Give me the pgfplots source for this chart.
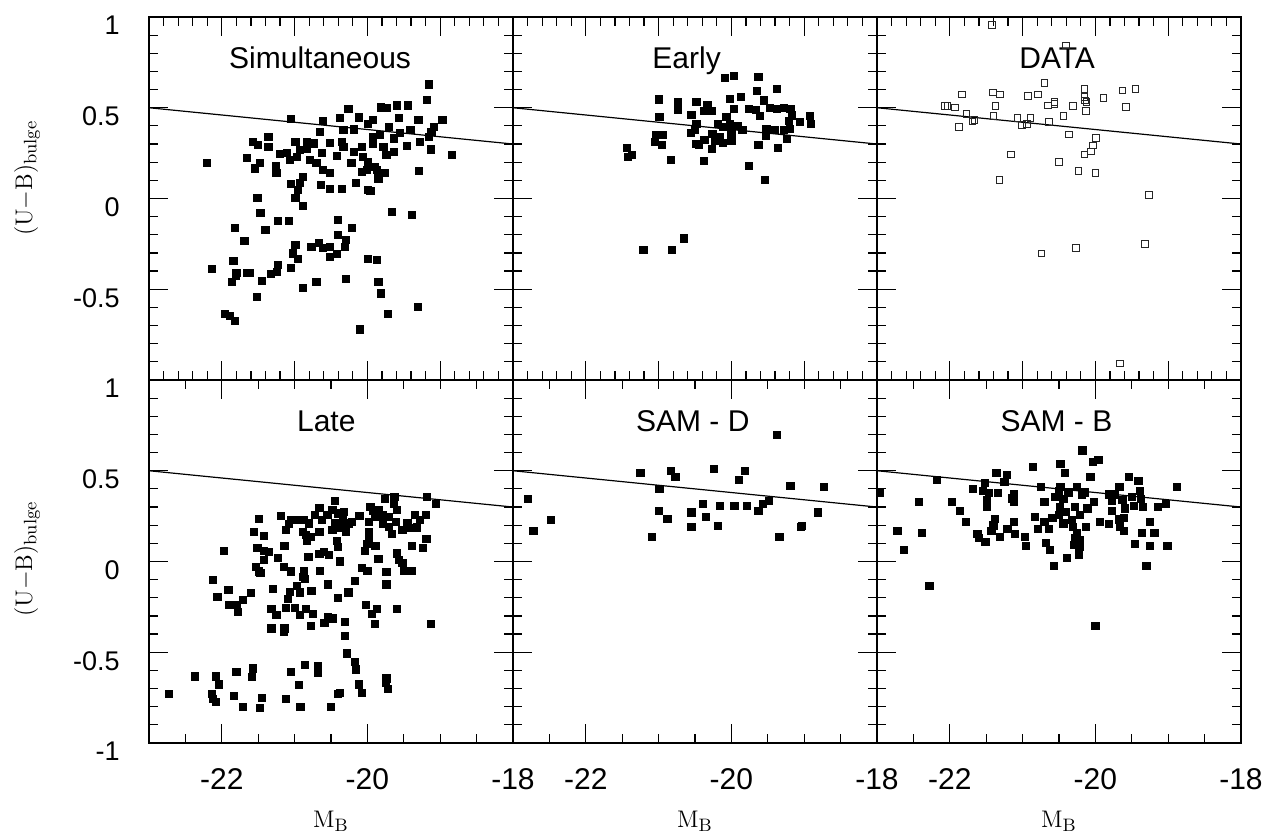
\documentclass[border=0pt]{standalone}
\usepackage[no-math]{fontspec}
\setmainfont{Liberation Sans}
\usepackage{pgfplots}
\pgfplotsset{compat=1.18}

% 1 px of the reference = 0.5pt
\pgfplotsset{
  panel/.style={
    scale only axis, width=182pt, height=181.5pt,
    xmin=-23, xmax=-18, ymin=-1, ymax=1,
    clip=false,
    axis line style={line width=0.9pt},
    tick align=inside, xtick pos=both, ytick pos=both,
    xticklabel pos=lower, yticklabel pos=left,
    ytick={-1,-0.5,0,0.5,1},
    minor ytick={-0.9,-0.8,...,0.95},
    yticklabels={}, xticklabels={},
    major tick length=9.5pt, minor tick length=4.5pt,
    tick style={black},
    major tick style={line width=0.6pt},
    minor tick style={line width=0.6pt},
    xticklabel style={font=\fontsize{15}{16}\selectfont, anchor=north, inner sep=0pt, yshift=-12.5pt},
    yticklabel style={font=\fontsize{13.5}{15}\selectfont, anchor=north east, inner sep=0pt, xshift=-14.5pt, yshift=0.5pt},
  },
  toprow/.style={xtick={-22,-21,-20,-19}, minor xtick={-22.8,-22.6,...,-18.1}},
  botrow/.style={
    xtick={-22,-20,-18}, minor xtick={-22.5,-22,...,-18.4},
    xticklabels={-22,-20,-18},
    xlabel={$\mathrm{M}_\mathrm{B}$},
    xlabel style={font=\fontsize{13}{15}\selectfont, at={(axis description cs:0.5,-0.234)}, anchor=base},
  },
  fitline/.style={black, line width=0.6pt, no marks},
  pts/.style={only marks, black, mark=square*, mark size=1.8pt},
}
\tikzset{lab/.style={font=\fontsize{15}{16}\selectfont, anchor=base}}

\begin{document}
\begin{tikzpicture}
\useasboundingbox (-74.5pt,-45.5pt) rectangle (558pt,371.5pt);

% ---------- top row ----------
\begin{axis}[panel, toprow, at={(0pt,181.5pt)}, anchor=south west,
  yticklabels={,-0.5,{0\hspace{-4pt}},0.5,{1\hspace{-4pt}}},
  ylabel={$(\mathrm{U}{-}\mathrm{B})_{\mathrm{bulge}}$},
  ylabel style={font=\fontsize{13}{15}\selectfont, at={(axis description cs:-0.335,0.556)}, anchor=center}]
\addplot[fitline] coordinates {(-23,0.5) (-18,0.3)};
\addplot[pts] coordinates {
(-19.15,0.629) (-19.18,0.543) (-20.26,0.495) (-19.81,0.502) (-19.74,0.497) (-19.60,0.513) (-19.44,0.513)
(-21.05,0.440) (-20.61,0.429) (-20.38,0.442) (-20.12,0.447) (-19.92,0.433) (-19.57,0.442) (-19.30,0.433)
(-18.97,0.433) (-20.65,0.368) (-20.33,0.378) (-20.19,0.381) (-19.99,0.410) (-19.71,0.396) (-19.41,0.378)
(-19.09,0.396) (-19.12,0.368) (-19.16,0.341) (-19.28,0.313) (-19.13,0.271) (-18.84,0.240) (-21.36,0.341)
(-21.57,0.313) (-21.50,0.295) (-21.36,0.286) (-20.99,0.313) (-20.83,0.313) (-20.74,0.304) (-20.51,0.308)
(-20.35,0.313) (-19.92,0.341) (-19.83,0.350) (-19.64,0.331) (-19.55,0.362) (-19.46,0.289) (-22.21,0.194)
(-21.65,0.225) (-21.54,0.166) (-21.48,0.194) (-21.26,0.181) (-21.25,0.139) (-21.20,0.245) (-21.11,0.249)
(-21.06,0.212) (-20.97,0.230) (-20.93,0.267) (-20.83,0.276) (-20.79,0.212) (-20.70,0.194) (-20.63,0.249)
(-20.61,0.157) (-20.51,0.139) (-20.42,0.234) (-20.33,0.286) (-20.22,0.194) (-20.19,0.258) (-20.08,0.286)
(-20.06,0.230) (-19.99,0.203) (-20.01,0.157) (-19.90,0.175) (-19.92,0.304) (-19.78,0.286) (-19.74,0.240)
(-19.64,0.258) (-19.87,0.157) (-19.76,0.139) (-19.85,0.111) (-20.08,0.148) (-19.29,0.153) (-21.05,0.080)
(-20.89,0.120) (-20.93,0.084) (-20.64,0.075) (-20.51,0.051) (-20.35,0.053) (-20.16,0.084) (-19.99,0.047)
(-20.95,0.047) (-19.96,0.041)
(-21.51,0.005) (-20.99,0.005) (-20.89,-0.040) (-21.47,-0.078) (-19.66,-0.073) (-19.39,-0.089) (-21.23,-0.122)
(-21.08,-0.122) (-20.41,-0.118) (-21.82,-0.162) (-21.40,-0.172) (-20.21,-0.161) (-20.41,-0.199) (-20.29,-0.229)
(-21.69,-0.232) (-20.99,-0.256) (-20.77,-0.265) (-20.67,-0.243) (-20.61,-0.271) (-20.52,-0.265) (-20.31,-0.265)
(-20.42,-0.306) (-20.51,-0.320) (-21.02,-0.302) (-20.96,-0.333) (-19.99,-0.331) (-19.87,-0.337) (-21.84,-0.344)
(-22.14,-0.387) (-21.80,-0.412) (-21.81,-0.425) (-21.86,-0.460) (-21.66,-0.409) (-21.61,-0.409) (-21.45,-0.456)
(-21.33,-0.416) (-21.24,-0.403) (-21.23,-0.366) (-21.05,-0.381) (-20.89,-0.491) (-20.70,-0.458) (-20.30,-0.442)
(-19.85,-0.458) (-19.82,-0.523) (-21.52,-0.541) (-21.96,-0.635) (-21.89,-0.645) (-21.82,-0.675) (-19.72,-0.635)
(-19.31,-0.598) (-20.10,-0.721)
};
\node[lab] at (rel axis cs:0.47,0.857) {Simultaneous};
\end{axis}

\begin{axis}[panel, toprow, at={(182pt,181.5pt)}, anchor=south west]
\addplot[fitline] coordinates {(-23,0.5) (-18,0.3)};
\addplot[pts] coordinates {
(-20.09,0.666) (-19.97,0.675) (-19.63,0.669) (-19.65,0.594) (-19.38,0.605) (-21.00,0.546) (-20.74,0.530)
(-20.74,0.486) (-20.48,0.532) (-20.33,0.515) (-20.38,0.482) (-20.27,0.482) (-20.02,0.550) (-19.87,0.561)
(-19.97,0.495) (-19.76,0.495) (-19.66,0.489) (-19.55,0.541) (-19.61,0.456) (-19.47,0.500) (-19.38,0.495)
(-19.28,0.500) (-19.19,0.495) (-19.17,0.458) (-19.21,0.427) (-19.06,0.421) (-18.92,0.456) (-18.91,0.412)
(-20.99,0.449) (-20.55,0.462) (-20.48,0.409) (-20.56,0.363) (-20.50,0.376) (-20.19,0.412) (-20.07,0.449)
(-20.02,0.412) (-20.12,0.394) (-19.91,0.398) (-19.85,0.379) (-20.00,0.366) (-20.26,0.354) (-20.16,0.339)
(-20.23,0.320) (-20.00,0.320) (-20.12,0.306) (-20.37,0.324) (-20.49,0.302) (-20.45,0.298) (-20.27,0.273)
(-21.03,0.352) (-20.94,0.352) (-21.05,0.313) (-20.95,0.297) (-19.52,0.385) (-19.41,0.376) (-19.53,0.348)
(-19.28,0.376) (-19.20,0.385) (-19.24,0.330) (-19.63,0.297) (-19.36,0.278) (-21.43,0.280) (-21.42,0.229)
(-21.37,0.242) (-20.83,0.214) (-20.38,0.208) (-19.76,0.179) (-19.54,0.104) (-21.21,-0.282) (-20.82,-0.282)
(-20.65,-0.220)
};
\node[lab] at (rel axis cs:0.477,0.857) {Early};
\end{axis}

\begin{axis}[panel, toprow, at={(364pt,181.5pt)}, anchor=south west]
\addplot[fitline] coordinates {(-23,0.5) (-18,0.3)};
\addplot[only marks, black!85, mark=square, mark size=1.65pt, mark options={line width=0.5pt}] coordinates {
(-21.42,0.956) (-20.40,0.844) (-20.70,0.635) (-21.83,0.574) (-21.41,0.583) (-21.31,0.572) (-20.93,0.565)
(-20.79,0.572) (-20.15,0.603) (-20.15,0.559) (-20.14,0.541) (-20.12,0.532) (-19.89,0.554) (-19.63,0.594)
(-19.45,0.603) (-22.07,0.511) (-22.03,0.511) (-21.93,0.502) (-21.37,0.511) (-20.65,0.513) (-20.56,0.530)
(-20.56,0.519) (-20.31,0.511) (-19.58,0.504) (-21.77,0.464) (-20.13,0.482) (-21.40,0.455) (-20.44,0.453)
(-21.69,0.425) (-21.66,0.434) (-21.07,0.444) (-20.89,0.444) (-21.01,0.404) (-20.94,0.412) (-20.64,0.423)
(-21.87,0.394) (-20.36,0.352) (-19.99,0.332) (-20.03,0.293) (-20.06,0.260) (-20.15,0.242) (-21.16,0.242)
(-20.50,0.201) (-20.23,0.150) (-20.00,0.141) (-21.32,0.101) (-19.26,0.020) (-20.27,-0.273) (-20.74,-0.303)
(-19.32,-0.252) (-19.66,-0.909)
};
\node[lab] at (rel axis cs:0.495,0.857) {DATA};
\end{axis}

% ---------- bottom row ----------
\begin{axis}[panel, botrow, at={(0pt,0pt)}, anchor=south west,
  yticklabels={-1,-0.5,{0\hspace{-4pt}},0.5,{1\hspace{-4pt}}},
  ylabel={$(\mathrm{U}{-}\mathrm{B})_{\mathrm{bulge}}$},
  ylabel style={font=\fontsize{13}{15}\selectfont, at={(axis description cs:-0.335,0.507)}, anchor=center}]
\addplot[fitline] coordinates {(-23,0.5) (-18,0.3)};
\addplot[pts] coordinates {
(-19.18,0.354) (-19.06,0.317) (-19.76,0.346) (-19.63,0.354) (-19.64,0.317) (-20.45,0.335) (-20.66,0.297)
(-21.19,0.253) (-21.49,0.236) (-21.05,0.229) (-20.96,0.229) (-21.08,0.205) (-21.12,0.174) (-20.87,0.229)
(-20.80,0.210) (-20.72,0.258) (-20.62,0.229) (-20.55,0.256) (-20.48,0.284) (-20.41,0.265) (-20.32,0.275)
(-20.34,0.229) (-20.44,0.210) (-20.37,0.183) (-20.25,0.210) (-20.48,0.174) (-20.30,0.165) (-20.66,0.165)
(-20.89,0.165) (-20.85,0.146) (-20.78,0.137) (-20.83,0.113) (-20.11,0.253) (-20.21,0.219) (-19.96,0.302)
(-19.92,0.281) (-19.84,0.284) (-19.98,0.219) (-19.89,0.247) (-19.79,0.256) (-19.70,0.247) (-19.60,0.284)
(-19.61,0.219) (-19.79,0.210) (-19.70,0.192) (-19.52,0.174) (-19.43,0.183) (-19.45,0.214) (-19.66,0.152)
(-19.35,0.258) (-19.20,0.256) (-19.28,0.229) (-19.32,0.188) (-19.19,0.124) (-19.24,0.076) (-19.39,0.087)
(-19.98,0.165) (-19.98,0.128) (-20.00,0.095) (-20.03,0.060) (-19.89,0.087) (-20.42,0.115) (-20.41,0.082)
(-21.56,0.164) (-21.42,0.142) (-21.97,0.060) (-21.51,0.076) (-21.42,0.058) (-21.35,0.054) (-21.42,0.009)
(-21.23,0.021) (-21.14,0.087) (-20.81,0.027) (-20.66,0.042) (-20.60,0.055) (-20.53,0.037) (-20.38,0.000)
(-19.85,0.016) (-19.60,0.045) (-19.57,0.009) (-19.52,-0.009) (-19.50,-0.050) (-19.39,-0.050) (-21.53,-0.028)
(-21.49,-0.055) (-21.47,-0.064) (-21.15,-0.028) (-21.05,-0.055) (-20.87,-0.055) (-20.89,-0.083) (-20.86,-0.096)
(-20.65,-0.053) (-20.08,-0.034) (-20.00,-0.051) (-19.74,-0.056) (-19.74,-0.126) (-20.17,-0.106) (-20.54,-0.126)
(-22.12,-0.102) (-21.91,-0.155) (-22.06,-0.197) (-21.60,-0.175) (-21.71,-0.212) (-21.90,-0.240) (-21.80,-0.240)
(-21.78,-0.276) (-21.30,-0.150) (-20.97,-0.133) (-21.06,-0.168) (-20.93,-0.170) (-21.09,-0.207) (-20.77,-0.161)
(-20.26,-0.170) (-20.41,-0.199) (-20.02,-0.238) (-19.87,-0.260) (-19.94,-0.289) (-19.59,-0.262) (-19.13,-0.343)
(-21.32,-0.260) (-21.25,-0.293) (-21.12,-0.254) (-21.00,-0.254) (-20.93,-0.293) (-20.85,-0.260) (-20.75,-0.289)
(-20.54,-0.304) (-20.48,-0.313) (-20.59,-0.337) (-20.78,-0.354) (-20.31,-0.335) (-19.90,-0.343) (-21.32,-0.369)
(-21.14,-0.369) (-21.15,-0.387) (-20.31,-0.409)
(-20.28,-0.506) (-20.17,-0.552) (-20.16,-0.594) (-20.86,-0.570) (-20.68,-0.576) (-20.68,-0.616) (-21.05,-0.607)
(-20.94,-0.678) (-21.57,-0.589) (-21.59,-0.636) (-21.80,-0.607) (-22.37,-0.633) (-22.08,-0.633) (-22.04,-0.677)
(-22.73,-0.728) (-22.14,-0.730) (-22.12,-0.759) (-22.08,-0.772) (-21.83,-0.741) (-21.71,-0.800) (-21.45,-0.750)
(-21.48,-0.805) (-21.12,-0.759) (-20.92,-0.803) (-20.50,-0.800) (-20.41,-0.730) (-20.38,-0.723) (-20.12,-0.677)
(-20.08,-0.723) (-19.74,-0.644) (-19.75,-0.670) (-19.72,-0.704)
};
\node[lab] at (rel axis cs:0.487,0.857) {Late};
\end{axis}

\begin{axis}[panel, botrow, at={(182pt,0pt)}, anchor=south west]
\addplot[fitline] coordinates {(-23,0.5) (-18,0.3)};
\addplot[pts] coordinates {
(-19.38,0.699) (-21.25,0.489) (-20.83,0.500) (-20.77,0.467) (-20.24,0.511) (-19.81,0.500) (-19.90,0.451)
(-20.99,0.402) (-19.19,0.418) (-18.73,0.412) (-22.80,0.346) (-20.39,0.319) (-20.16,0.308) (-19.96,0.308)
(-19.79,0.308) (-19.57,0.319) (-19.49,0.336) (-19.63,0.280) (-21.00,0.280) (-20.55,0.270) (-20.35,0.247)
(-20.88,0.236) (-22.48,0.230) (-18.81,0.270) (-22.72,0.170) (-20.55,0.192) (-20.19,0.197) (-19.03,0.197)
(-19.05,0.192) (-21.09,0.137) (-19.34,0.137)
};
\node[lab] at (rel axis cs:0.494,0.857) {SAM - D};
\end{axis}

\begin{axis}[panel, botrow, at={(364pt,0pt)}, anchor=south west]
\addplot[fitline] coordinates {(-23,0.5) (-18,0.3)};
\addplot[pts] coordinates {
(-20.18,0.612) (-20.03,0.550) (-19.96,0.559) (-20.48,0.539) (-20.86,0.522) (-20.42,0.489) (-21.36,0.489)
(-21.22,0.478) (-21.25,0.440) (-20.07,0.467) (-19.54,0.467) (-19.41,0.442) (-22.18,0.451) (-21.52,0.431)
(-21.68,0.401) (-21.55,0.388) (-21.46,0.379) (-21.34,0.379) (-21.49,0.339) (-21.49,0.303) (-21.12,0.372)
(-21.15,0.348) (-21.12,0.330) (-20.75,0.412) (-20.48,0.412) (-20.50,0.388) (-20.37,0.381) (-20.25,0.412)
(-20.19,0.370) (-20.14,0.381) (-20.55,0.357) (-20.44,0.343) (-20.70,0.330) (-20.49,0.302) (-20.02,0.330)
(-19.67,0.412) (-19.82,0.370) (-19.74,0.370) (-19.77,0.335) (-19.63,0.339) (-19.50,0.357) (-19.39,0.390)
(-19.38,0.343) (-19.59,0.293) (-19.47,0.306) (-19.35,0.302) (-19.14,0.302) (-19.03,0.317) (-18.88,0.412)
(-22.96,0.379) (-22.43,0.330) (-21.97,0.328) (-21.86,0.280) (-21.78,0.219) (-21.38,0.236) (-21.40,0.199)
(-21.43,0.168) (-21.21,0.181) (-21.12,0.219) (-21.62,0.150) (-21.60,0.128) (-21.51,0.107) (-21.31,0.137)
(-21.11,0.150) (-20.97,0.137) (-20.95,0.087) (-20.83,0.247) (-20.79,0.181) (-20.70,0.219) (-20.64,0.181)
(-20.59,0.242) (-20.50,0.256) (-20.41,0.275) (-20.28,0.302) (-20.21,0.256) (-20.11,0.293) (-20.44,0.210)
(-20.32,0.229) (-20.31,0.192) (-20.13,0.192) (-20.25,0.155) (-20.28,0.128) (-20.22,0.118) (-20.30,0.091)
(-20.22,0.082) (-20.23,0.039) (-20.39,0.021) (-20.68,0.101) (-20.63,0.065) (-20.57,-0.023) (-19.94,0.219)
(-19.82,0.207) (-19.77,0.280) (-19.67,0.232) (-19.61,0.242) (-19.66,0.192) (-19.61,0.170) (-19.25,0.219)
(-19.36,0.159) (-19.19,0.159) (-19.46,0.098) (-19.25,0.087) (-19.01,0.087) (-19.30,-0.023) (-22.72,0.170)
(-22.38,0.159) (-22.63,0.065) (-22.28,-0.135) (-20.00,-0.353)
};
\node[lab] at (rel axis cs:0.493,0.857) {SAM - B};
\end{axis}
\end{tikzpicture}
\end{document}
